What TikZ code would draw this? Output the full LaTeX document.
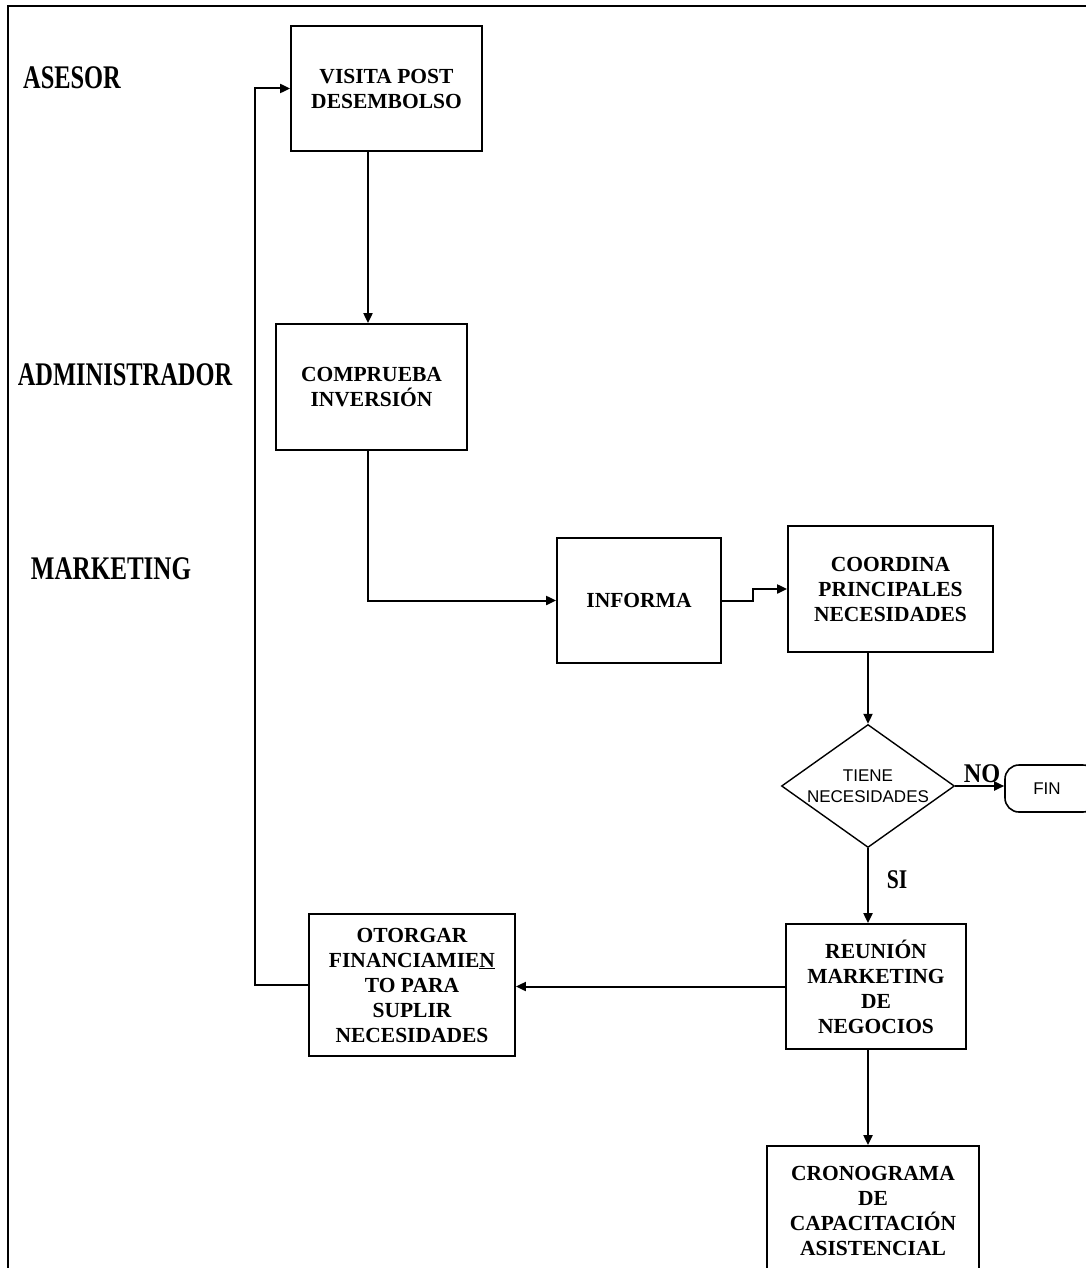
\documentclass[tikz,border=0pt]{standalone}
\usepackage{fontspec}
\usepackage{graphicx}
\setmainfont{Liberation Serif}
\newfontfamily\sansf{Liberation Sans}
\usetikzlibrary{arrows.meta,shapes.geometric}
\tikzset{
  box/.style={draw, line width=1.8pt, inner sep=0pt, align=center,
    font=\fontsize{21.5}{25}\selectfont\bfseries},
  conn/.style={line width=2pt},
  arr/.style={conn, -{Triangle[length=10pt,width=9pt]}},
  lane/.style={anchor=base, inner sep=0pt, font=\fontsize{33}{36}\selectfont\bfseries},
  cond/.style={anchor=base, inner sep=0pt, font=\fontsize{27}{30}\selectfont\bfseries},
  sanslbl/.style={inner sep=0pt, align=center, font=\fontsize{17}{21}\selectfont\sansf}
}
\begin{document}
\begin{tikzpicture}[x=1pt,y=-1pt]
\clip (0,0) rectangle (1086,1268);
\fill[white] (0,0) rectangle (1086,1268);
% outer frame
\draw[line width=2.2pt] (8,1300) -- (8,6) -- (1100,6);

% lane labels
\node[lane] (asesor) at (72,89) {\scalebox{0.74}[1]{ASESOR}};
\node[lane] (admin) at (125,385) {\scalebox{0.74}[1]{ADMINISTRADOR}};
\node[lane] (mkt) at (111,579) {\scalebox{0.76}[1]{MARKETING}};

% boxes
\node[box, minimum width=191pt, minimum height=125pt] (visita) at (386.5,88.5) {VISITA POST\\DESEMBOLSO};
\node[box, minimum width=191pt, minimum height=126pt] (comprueba) at (371.5,387) {COMPRUEBA\\INVERSIÓN};
\node[box, minimum width=164pt, minimum height=125pt] (informa) at (639,600.5) {INFORMA};
\node[box, minimum width=205pt, minimum height=126pt] (coordina) at (890.5,589) {COORDINA\\PRINCIPALES\\NECESIDADES};
\node[draw, line width=1.4pt, diamond, inner sep=0pt, minimum width=173pt, minimum height=123pt] (dia) at (868,786) {};
\node[sanslbl] (diatext) at (dia.center) {TIENE\\NECESIDADES};
\node[draw, line width=1.6pt, rounded corners=14pt, minimum width=92pt, minimum height=47pt, inner sep=0pt,
      font=\fontsize{17}{20}\selectfont\sansf] (fin) at (1051,788.5) {FIN\hspace*{8pt}};
\node[box, minimum width=180pt, minimum height=125pt] (reunion) at (876,986.5) {REUNIÓN\\MARKETING\\DE\\NEGOCIOS};
\node[box, minimum width=206pt, minimum height=142pt] (otorgar) at (412,985) {OTORGAR\\FINANCIAMIE\underline{N}\\TO PARA\\SUPLIR\\NECESIDADES};
\node[box, minimum width=212pt, minimum height=130pt] (crono) at (873,1211) {CRONOGRAMA\\DE\\CAPACITACIÓN\\ASISTENCIAL};

% condition labels
\node[cond] (nolbl) at (982,782) {\scalebox{0.9}[1]{NO}};
\node[cond] (silbl) at (897,888) {\scalebox{0.8}[1]{SI}};

% helper coordinates
\coordinate (c1) at (368,0);
\coordinate (loop) at (255,0);

% connectors
\draw[arr] (visita.south -| c1) -- (comprueba.north -| c1);
\draw[arr] (comprueba.south -| c1) |- (informa.west);
\draw[arr] (informa.east) -- ++(31,0) |- (coordina.west);
\draw[arr] (coordina.south -| dia.north) -- (dia.north);
\draw[arr] (dia.east) -- (dia.east -| fin.west);
\draw[arr] (dia.south) -- (dia.south |- reunion.north);
\draw[arr] (reunion.west) -- (reunion.west -| otorgar.east);
\draw[arr] (dia.south |- reunion.south) -- (dia.south |- crono.north);
\draw[arr] (otorgar.west) -- (otorgar.west -| loop) -- (visita.west -| loop) -- (visita.west);
\end{tikzpicture}
\end{document}
